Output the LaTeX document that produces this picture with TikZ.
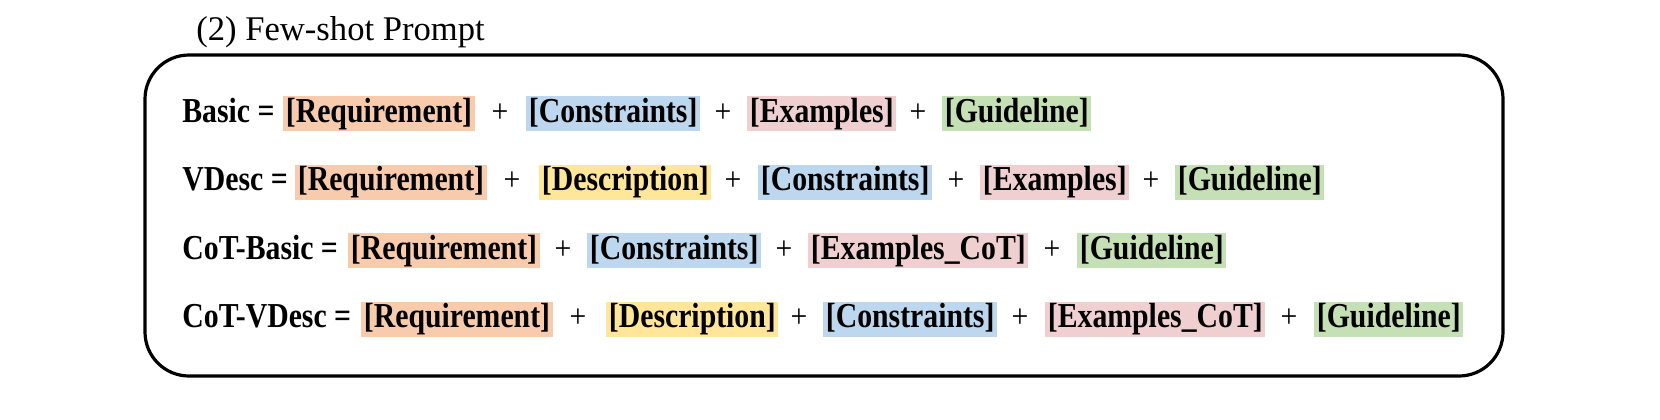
\documentclass[tikz,border=0pt]{standalone}
\usepackage{fontspec}
\setmainfont{Liberation Serif}
\newfontfamily\condbold[FakeStretch=0.85]{Liberation Serif Bold}
\newfontfamily\condreg[FakeStretch=0.9]{Liberation Serif}
\definecolor{reqc}{HTML}{F8CBAD}
\definecolor{consc}{HTML}{BDD7EE}
\definecolor{exc}{HTML}{EFCFCF}
\definecolor{descc}{HTML}{FFE699}
\definecolor{guidc}{HTML}{C5E0B4}
\tikzset{
  item/.style={anchor=base west, inner xsep=1.25pt, inner ysep=0pt,
    text height=13pt, text depth=4.5pt, font=\condbold\fontsize{17.5}{19}\selectfont},
  req/.style={item, fill=reqc},
  cons/.style={item, fill=consc},
  exs/.style={item, fill=exc},
  desc/.style={item, fill=descc},
  guid/.style={item, fill=guidc},
  lbl/.style={anchor=base west, inner sep=0pt, font=\condbold\fontsize{17.5}{19}\selectfont},
  plus/.style={anchor=base, inner sep=0pt, font=\condreg\fontsize{16.5}{18}\selectfont},
  frame/.style={draw, line width=1.6pt, rounded corners=22pt}
}
\begin{document}
\begin{tikzpicture}[x=0.5pt,y=-0.5pt]
\useasboundingbox (0,0) rectangle (1660,419);
\node[anchor=base west, inner sep=0pt, font=\fontsize{17.3}{19}\selectfont] (title) at (196,40) {(2) Few-shot Prompt};
\draw[frame] (145,55) rectangle (1503,376);
% row 1
\node[lbl] (l1) at (182,122) {Basic =};
\node[req] (r1a) at (283,122) {[Requirement]};
\node[plus] (p1a) at (500,122) {+};
\node[cons] (r1b) at (526,122) {[Constraints]};
\node[plus] (p1b) at (723,122) {+};
\node[exs] (r1c) at (747,122) {[Examples]};
\node[plus] (p1c) at (918,122) {+};
\node[guid] (r1d) at (942,122) {[Guideline]};
% row 2
\node[lbl] (l2) at (182,190.5) {VDesc =};
\node[req] (r2a) at (295,190.5) {[Requirement]};
\node[plus] (p2a) at (512,190.5) {+};
\node[desc] (r2b) at (539,190.5) {[Description]};
\node[plus] (p2b) at (733,190.5) {+};
\node[cons] (r2c) at (758,190.5) {[Constraints]};
\node[plus] (p2c) at (956,190.5) {+};
\node[exs] (r2d) at (980,190.5) {[Examples]};
\node[plus] (p2d) at (1151,190.5) {+};
\node[guid] (r2e) at (1175,190.5) {[Guideline]};
% row 3
\node[lbl] (l3) at (182,259) {CoT-Basic =};
\node[req] (r3a) at (348,259) {[Requirement]};
\node[plus] (p3a) at (563,259) {+};
\node[cons] (r3b) at (587,259) {[Constraints]};
\node[plus] (p3b) at (784,259) {+};
\node[exs] (r3c) at (808,259) {[Examples\_CoT]};
\node[plus] (p3c) at (1052,259) {+};
\node[guid] (r3d) at (1077,259) {[Guideline]};
% row 4
\node[lbl] (l4) at (182,327.5) {CoT-VDesc =};
\node[req] (r4a) at (361,327.5) {[Requirement]};
\node[plus] (p4a) at (578,327.5) {+};
\node[desc] (r4b) at (606,327.5) {[Description]};
\node[plus] (p4b) at (799,327.5) {+};
\node[cons] (r4c) at (823,327.5) {[Constraints]};
\node[plus] (p4c) at (1020,327.5) {+};
\node[exs] (r4d) at (1045,327.5) {[Examples\_CoT]};
\node[plus] (p4d) at (1289,327.5) {+};
\node[guid] (r4e) at (1314,327.5) {[Guideline]};
\end{tikzpicture}
\end{document}
